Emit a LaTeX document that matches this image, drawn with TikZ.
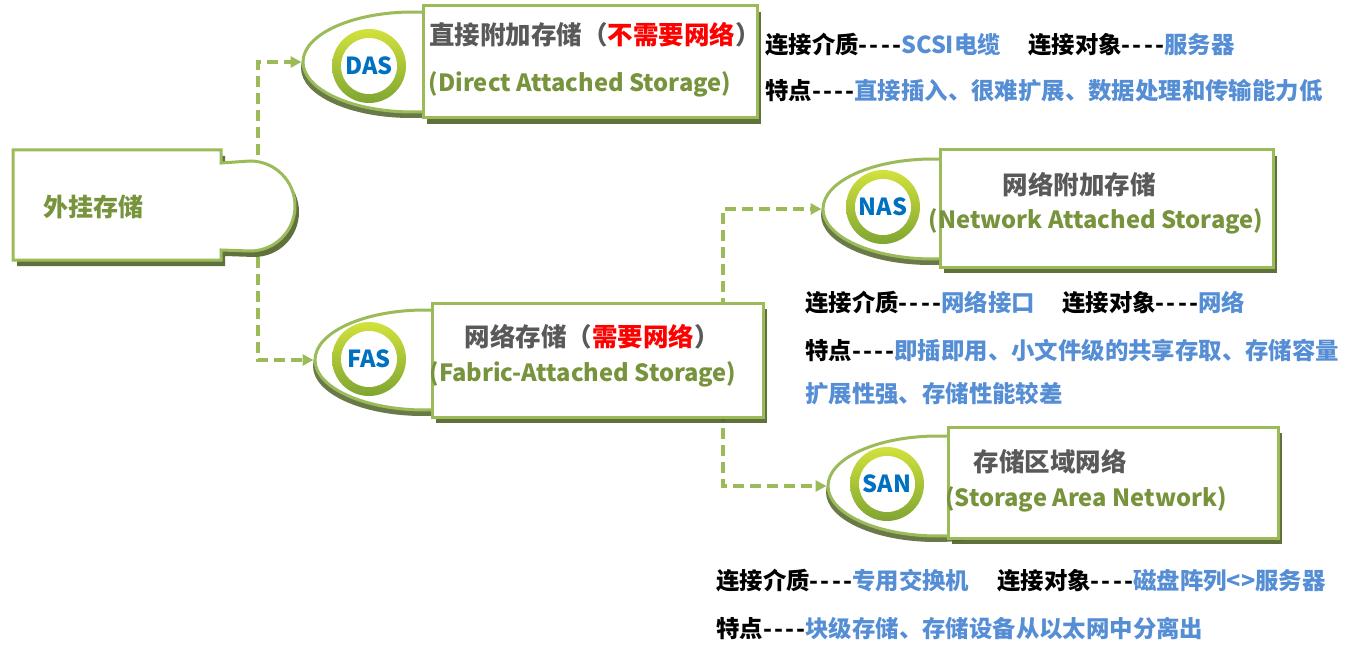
\documentclass[tikz,border=0pt]{standalone}
\usepackage{fontspec}
\setmainfont{Noto Sans CJK SC}[Ligatures=TeXOff]
\usetikzlibrary{arrows.meta,shadows,shapes.geometric}
\definecolor{gborder}{HTML}{9BBB59}
\definecolor{gshadow}{HTML}{4F6228}
\definecolor{olivetxt}{HTML}{77933C}
\definecolor{tgray}{HTML}{595959}
\definecolor{infob}{HTML}{558ED5}
\definecolor{dasblue}{HTML}{0070C0}
\definecolor{ringtop}{HTML}{D2E23C}
\definecolor{ringbot}{HTML}{7FA532}
\definecolor{pred}{HTML}{FF0000}
\newcommand\mydsh{-\kern2.2pt-\kern2.2pt-\kern2.2pt-}
\begin{document}
\begin{tikzpicture}[x=1pt,y=-1pt,
  conn/.style={draw=gborder, line width=3.5pt, dash pattern=on 11pt off 6pt,
    -{Triangle[length=11pt,width=11pt]}},
  tab/.style={ellipse, draw=gborder, line width=3pt, fill=white, inner sep=0pt,
    minimum width=220pt, minimum height=100pt,
    drop shadow={shadow xshift=-2pt, shadow yshift=-6pt, fill=gshadow, opacity=0.85}},
  box/.style={rectangle, draw=gborder, line width=3pt, fill=white, inner sep=0pt,
    drop shadow={shadow xshift=4pt, shadow yshift=-6pt, fill=gshadow, opacity=0.9}},
  ringo/.style={circle, top color=ringtop, bottom color=ringbot, minimum size=74pt, inner sep=0pt},
  ringi/.style={circle, fill=white, minimum size=56pt, inner sep=0pt,
    font=\bfseries\fontsize{23.5}{23.5}\selectfont, text=dasblue},
  title/.style={font=\bfseries\fontsize{25.5}{25.5}\selectfont, text=tgray, anchor=base, inner sep=0pt},
  sub/.style={font=\bfseries\fontsize{23.7}{23.7}\selectfont, text=olivetxt, anchor=base, inner sep=0pt},
  info/.style={font=\bfseries\fontsize{23.4}{23.4}\selectfont, anchor=base west, inner sep=0pt, text=black},
  mainshape/.style={draw=gborder, line width=3pt, fill=white,
    drop shadow={shadow xshift=4pt, shadow yshift=-6pt, fill=gshadow, opacity=0.9}}
]
\useasboundingbox (0,0) rectangle (1353,650);

% tabs (ellipses)
\node[tab] (dasE) at (413,62) {};
\node[tab] (fasE) at (425,360) {};
\node[tab] (nasE) at (933,209) {};
\node[tab] (sanE) at (938,486) {};

% anchor points for connectors
\coordinate (extc) at (258,206);
\coordinate (fasc) at (723,360);

% connectors
\draw[conn] (extc) |- (dasE.west);
\draw[conn] (extc) |- (fasE.west);
\draw[conn] (fasc) |- (nasE.west);
\draw[conn] (fasc) |- (sanE.west);

% main shape
\path[mainshape] (13,150) -- (221,150) -- (221,163) -- (250,161)
  .. controls (275,161) and (295,181) .. (295,206)
  .. controls (295,231) and (275,251) .. (250,251)
  -- (221,250) -- (221,260) -- (13,260) -- cycle;
\node[font=\bfseries\fontsize{25}{25}\selectfont, text=olivetxt] (ext) at (93,207) {外挂存储};

% boxes
\node[box, minimum width=334pt, minimum height=112pt] (dasB) at (590,62) {};
\node[box, minimum width=331pt, minimum height=114pt] (fasB) at (597.5,360) {};
\node[box, minimum width=333pt, minimum height=117pt] (nasB) at (1106.5,208.5) {};
\node[box, minimum width=330pt, minimum height=111pt] (sanB) at (1113,482.5) {};

% rings
\node[ringo] (dasRo) at (369,66) {};
\node[ringi] (dasR) at (369,66) {DAS};
\node[ringo] (fasRo) at (369,359) {};
\node[ringi] (fasR) at (369,359) {FAS};
\node[ringo] (nasRo) at (883,207) {};
\node[ringi] (nasR) at (883,207) {NAS};
\node[ringo] (sanRo) at (887,484) {};
\node[ringi] (sanR) at (887,484) {SAN};

% titles
\node[title] (dasT) at (595,45) {直接附加存储（\textcolor{pred}{不需要网络}）};
\node[title] (fasT) at (592,346) {网络存储（\textcolor{pred}{需要网络}）};
\node[title] (nasT) at (1079,194) {网络附加存储};
\node[title] (sanT) at (1050,471) {存储区域网络};
\node[sub] (dasS) at (580,92) {(Direct Attached Storage)};
\node[sub] (fasS) at (583,381) {(Fabric-Attached Storage)};
\node[sub] (nasS) at (1096,229) {(Network Attached Storage)};
\node[sub] (sanS) at (1086,506) {(Storage Area Network)};

% info DAS
\node[info] (dasI1) at (765,54) {连接介质\mydsh\textcolor{infob}{SCSI电缆}};
\node[info] (dasI2) at (1028,54) {连接对象\mydsh\textcolor{infob}{服务器}};
\node[info] (dasI3) at (765,100) {特点\mydsh\textcolor{infob}{直接插入、很难扩展、数据处理和传输能力低}};
% info NAS
\node[info] (nasI1) at (805,311) {连接介质\mydsh\textcolor{infob}{网络接口}};
\node[info] (nasI2) at (1062,311) {连接对象\mydsh\textcolor{infob}{网络}};
\node[info] (nasI3) at (805,359) {特点\mydsh\textcolor{infob}{即插即用、小文件级的共享存取、存储容量}};
\node[info, text=infob] (nasI4) at (805,402) {扩展性强、存储性能较差};
% info SAN
\node[info] (sanI1) at (716,589) {连接介质\mydsh\textcolor{infob}{专用交换机}};
\node[info] (sanI2) at (997,589) {连接对象\mydsh\textcolor{infob}{磁盘阵列<>服务器}};
\node[info] (sanI3) at (716,637) {特点\mydsh\textcolor{infob}{块级存储、存储设备从以太网中分离出}};
\end{tikzpicture}
\end{document}
